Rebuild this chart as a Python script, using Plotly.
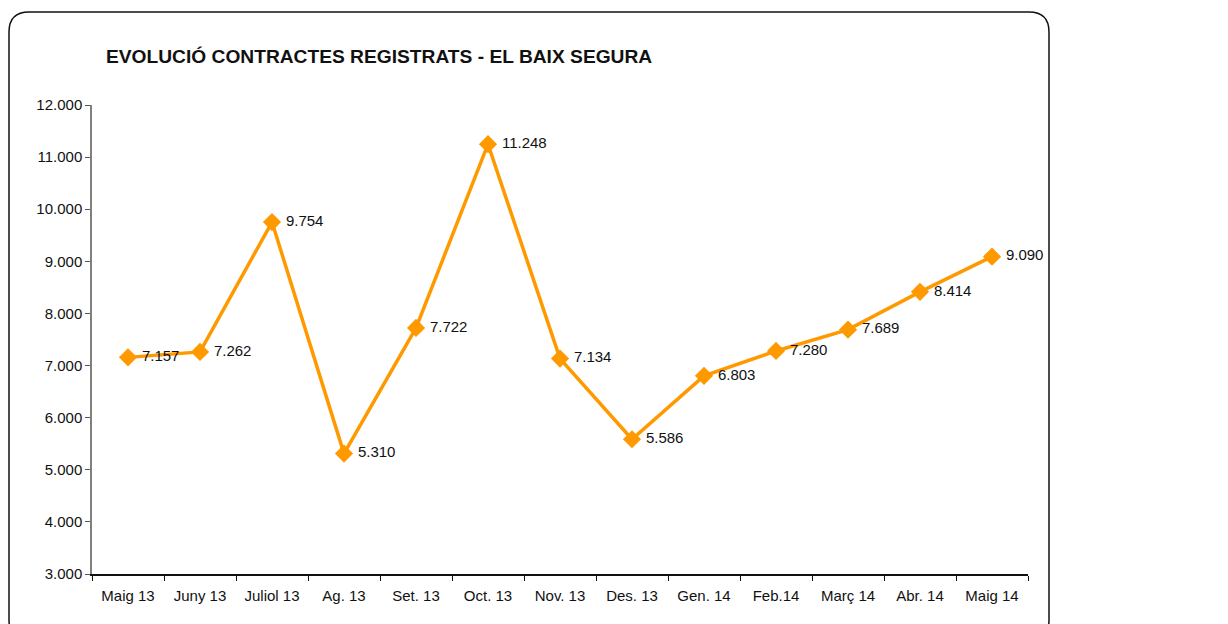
import plotly.graph_objects as go

# Monthly registered contracts, El Baix Segura
months = ["Maig 13", "Juny 13", "Juliol 13", "Ag. 13", "Set. 13", "Oct. 13", "Nov. 13",
          "Des. 13", "Gen. 14", "Feb.14", "Març 14", "Abr. 14", "Maig 14"]
contracts = [7157, 7262, 9754, 5310, 7722, 11248, 7134, 5586, 6803, 7280, 7689, 8414, 9090]

y_ticks = list(range(3000, 12001, 1000))

ORANGE = "#FF9900"
FONT = "Liberation Sans, Arial, sans-serif"

# plot area margins in pixels
ML, MR, MT, MB = 92, 200, 105, 50
W, H = 1228, 624

fig = go.Figure()
fig.add_trace(go.Scatter(
    x=months,
    y=contracts,
    mode="lines+markers+text",
    line=dict(color=ORANGE, width=3.5),
    marker=dict(symbol="diamond", size=14, color=ORANGE),
    texttemplate="\u00a0%{y:,}",
    textposition="middle right",
    textfont=dict(family=FONT, size=15, color="#111111"),
    cliponaxis=False,
    hoverinfo="x+y",
    showlegend=False,
))

# rounded frame around the chart (pixel coordinates relative to the plot origin)
x0, x1 = 9 - ML, 1049 - ML
yt, yb = (H - MB) - 12, (H - MB) - 640
r = 20
frame = (f"M {x0 + r},{yt} L {x1 - r},{yt} Q {x1},{yt} {x1},{yt - r} "
         f"L {x1},{yb + r} Q {x1},{yb} {x1 - r},{yb} "
         f"L {x0 + r},{yb} Q {x0},{yb} {x0},{yb + r} "
         f"L {x0},{yt - r} Q {x0},{yt} {x0 + r},{yt} Z")

fig.update_layout(
    width=W, height=H,
    margin=dict(l=ML, r=MR, t=MT, b=MB),
    paper_bgcolor="white",
    plot_bgcolor="white",
    separators=",.",
    font=dict(family=FONT, size=15, color="#111111"),
    title=dict(
        text="<b>EVOLUCIÓ CONTRACTES REGISTRATS - EL BAIX SEGURA</b>",
        x=106 / W, xanchor="left",
        y=1 - 56 / H, yanchor="middle",
        font=dict(family=FONT, size=19.2, color="#111111"),
    ),
    shapes=[dict(
        type="path", path=frame,
        xref="paper", yref="paper",
        xsizemode="pixel", ysizemode="pixel",
        xanchor=0, yanchor=0,
        line=dict(color="#111111", width=1.5),
        fillcolor="rgba(0,0,0,0)",
        layer="below",
    )],
)

fig.update_xaxes(
    type="category",
    showgrid=False,
    showline=True, linecolor="#111111", linewidth=1.5,
    ticks="outside", tickson="boundaries", ticklen=5, tickcolor="#111111",
    ticklabelstandoff=7,
    tickfont=dict(family=FONT, size=15, color="#111111"),
    range=[-0.5, len(months) - 0.5],
)
fig.update_yaxes(
    range=[3000, 12000],
    tickvals=y_ticks,
    tickformat=",d",
    showgrid=False, zeroline=False,
    showline=True, linecolor="#808080", linewidth=1.5,
    ticks="outside", ticklen=5, tickcolor="#555555",
    tickfont=dict(family=FONT, size=15, color="#111111"),
)

fig.write_html("out.html")
